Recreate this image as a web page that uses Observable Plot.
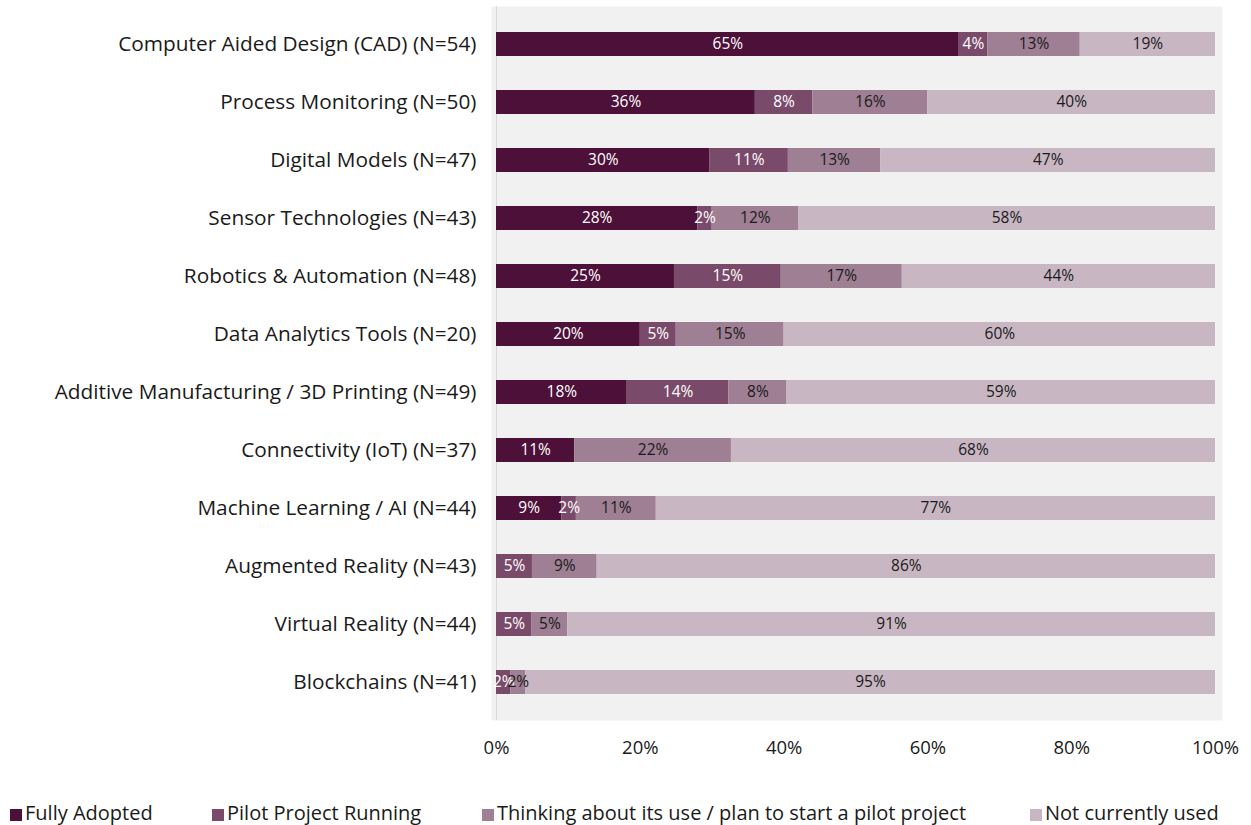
<!DOCTYPE html>
<html>
<head>
<meta charset="utf-8">
<script src="https://cdn.jsdelivr.net/npm/d3@7"></script>
<script src="https://cdn.jsdelivr.net/npm/@observablehq/plot@0.6"></script>
<style>
  html, body { margin: 0; padding: 0; background: #ffffff; }
  body { width: 1251px; height: 825px; overflow: hidden; font-family: "Open Sans", sans-serif; }
  #chart svg { display: block; }
  #legend { position: relative; height: 45px; font-size: 20px; color: #1a1a1a; }
  .item { position: absolute; top: 22px; display: flex; align-items: center; white-space: nowrap; line-height: 22px; }
  .sw { width: 12px; height: 12px; margin-right: 3px; margin-top: 3px; display: inline-block; }
</style>
</head>
<body>
<div id="chart"></div>
<div id="legend"></div>
<script>
const categories = [
  "Computer Aided Design (CAD) (N=54)",
  "Process Monitoring (N=50)",
  "Digital Models (N=47)",
  "Sensor Technologies (N=43)",
  "Robotics & Automation (N=48)",
  "Data Analytics Tools (N=20)",
  "Additive Manufacturing / 3D Printing (N=49)",
  "Connectivity (IoT) (N=37)",
  "Machine Learning / AI (N=44)",
  "Augmented Reality (N=43)",
  "Virtual Reality (N=44)",
  "Blockchains (N=41)"
];
const seriesNames = [
  "Fully Adopted",
  "Pilot Project Running",
  "Thinking about its use / plan to start a pilot project",
  "Not currently used"
];
const fullyAdopted = [65, 36, 30, 28, 25, 20, 18, 11, 9, 0, 0, 0];
const pilotRunning = [4, 8, 11, 2, 15, 5, 14, 0, 2, 5, 5, 2];
const thinking     = [13, 16, 13, 12, 17, 15, 8, 22, 11, 9, 5, 2];
const notUsed      = [19, 40, 47, 58, 44, 60, 59, 68, 77, 86, 91, 95];
const xTicks = [0, 0.2, 0.4, 0.6, 0.8, 1];
const colors = ["#4d1039", "#7a4a6a", "#9e7f94", "#c8b7c3"];

const seriesValues = [fullyAdopted, pilotRunning, thinking, notUsed];
const data = [];
categories.forEach((c, i) => {
  seriesNames.forEach((s, j) => {
    data.push({category: c, series: s, si: j, value: seriesValues[j][i]});
  });
});

const stackOpts = (extra) => Plot.stackX({
  x: "value", y: "category", z: "series", offset: "normalize", ...extra
});

const plot = Plot.plot({
  width: 1251,
  height: 780,
  marginLeft: 496,
  marginRight: 36,
  marginTop: 6,
  marginBottom: 60,
  style: {fontFamily: "'Open Sans', sans-serif", fontSize: "17px", color: "#1a1a1a", background: "#ffffff"},
  x: {domain: [0, 1]},
  y: {domain: categories, paddingInner: 0.59, paddingOuter: 0.35},
  color: {domain: seriesNames, range: colors},
  marks: [
    Plot.frame({fill: "#f1f1f1", stroke: null, insetLeft: -5, insetRight: -7}),
    Plot.ruleX([0], {stroke: "#d9d9d9", strokeWidth: 1}),
    Plot.barX(data, stackOpts({fill: "series"})),
    Plot.text(data, stackOpts({
      text: d => (d.si < 2 && d.value > 0) ? d.value + "%" : "",
      fill: "#ffffff", fontSize: 15.5
    })),
    Plot.text(data, stackOpts({
      text: d => (d.si >= 2 && d.value > 0) ? d.value + "%" : "",
      fill: "#1a1a1a", fontSize: 15.5
    })),
    Plot.axisX({ticks: xTicks, tickFormat: d => Math.round(d * 100) + "%", tickSize: 0, tickPadding: 20, fontSize: 18.5, label: null}),
    Plot.axisY({tickSize: 0, tickPadding: 20, fontSize: 20.8, label: null})
  ]
});
document.getElementById("chart").appendChild(plot);

const legendLefts = [10, 212, 482, 1030];
const legend = document.getElementById("legend");
seriesNames.forEach((s, j) => {
  const item = document.createElement("div");
  item.className = "item";
  item.style.left = legendLefts[j] + "px";
  const sw = document.createElement("span");
  sw.className = "sw";
  sw.style.background = colors[j];
  item.appendChild(sw);
  item.appendChild(document.createTextNode(s));
  legend.appendChild(item);
});
</script>
</body>
</html>
